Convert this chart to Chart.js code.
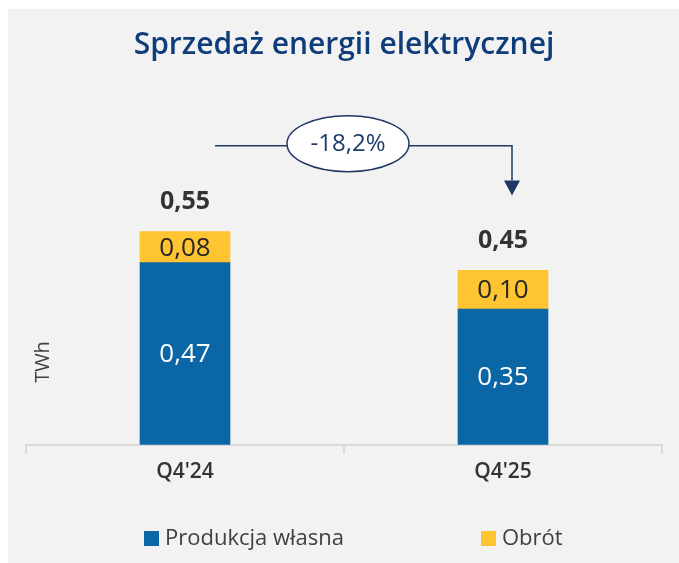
<!DOCTYPE html>
<html>
<head>
<meta charset="utf-8">
<script src="https://cdn.jsdelivr.net/npm/chart.js@4.4.1/dist/chart.umd.min.js"></script>
<style>
  html, body { margin: 0; padding: 0; background: #f2f2f2; }
  #wrap { width: 679px; height: 563px; }
</style>
</head>
<body>
<div id="wrap"><canvas id="chart" width="679" height="563"></canvas></div>
<script>
// dane
var categories = ["Q4'24", "Q4'25"];
var seriesNames = ["Produkcja własna", "Obrót"];
var produkcja = [0.47, 0.35];
var obrot = [0.08, 0.10];
var seriesColors = ["#0b66a6", "#fec431"];

var totals = produkcja.map(function (v, i) { return v + obrot[i]; });
var change = (totals[1] / totals[0] - 1) * 100;

var FONT = '"Open Sans", "Noto Sans", sans-serif';

function fmt(v, d) {
    return v.toFixed(d).replace('.', ',');
}

// tło, etykiety, strzałka, legenda
var decor = {
    id: 'decor',
    beforeDraw: function (chart) {
        var ctx = chart.ctx;
        ctx.save();
        ctx.fillStyle = '#f2f2f2';
        ctx.fillRect(0, 0, chart.width, chart.height);
        ctx.fillStyle = '#ffffff';
        ctx.fillRect(0, 0, chart.width, 9);
        ctx.fillRect(0, 0, 8, chart.height);
        ctx.restore();
    },
    afterDatasetsDraw: function (chart) {
        var ctx = chart.ctx;
        var area = chart.chartArea;
        ctx.save();
        ctx.textAlign = 'center';
        ctx.textBaseline = 'middle';

        // wartości w słupkach
        chart.data.datasets.forEach(function (ds, di) {
            var meta = chart.getDatasetMeta(di);
            meta.data.forEach(function (bar, i) {
                ctx.fillStyle = di === 0 ? '#ffffff' : '#262626';
                ctx.font = '26px ' + FONT;
                ctx.fillText(fmt(ds.data[i], 2), bar.x, (bar.y + bar.base) / 2 + 1);
            });
        });

        // sumy nad słupkami
        var topMeta = chart.getDatasetMeta(1);
        totals.forEach(function (t, i) {
            var bar = topMeta.data[i];
            ctx.font = 'bold 25px ' + FONT;
            ctx.fillStyle = '#333333';
            ctx.fillText(fmt(t, 2), bar.x, bar.y - 30);
        });

        // strzałka ze zmianą %
        var b0 = topMeta.data[0], b1 = topMeta.data[1];
        var lineY = b0.y - 86;
        var x0 = b0.x + 30;
        var x1 = b1.x + 9;
        var tipY = b1.y - 75;
        var cx = (area.left + area.right) / 2 + 4;
        var cy = lineY - 2;
        var rx = 61, ry = 28;
        ctx.strokeStyle = '#1f3864';
        ctx.fillStyle = '#1f3864';
        ctx.lineWidth = 1.5;
        ctx.beginPath();
        ctx.moveTo(x0, lineY);
        ctx.lineTo(cx - rx, lineY);
        ctx.moveTo(cx + rx, lineY);
        ctx.lineTo(x1, lineY);
        ctx.lineTo(x1, tipY - 15);
        ctx.stroke();
        ctx.beginPath();
        ctx.moveTo(x1 - 8, tipY - 15);
        ctx.lineTo(x1 + 8, tipY - 15);
        ctx.lineTo(x1, tipY);
        ctx.closePath();
        ctx.fill();
        ctx.beginPath();
        ctx.ellipse(cx, cy, rx, ry, 0, 0, Math.PI * 2);
        ctx.fillStyle = '#ffffff';
        ctx.fill();
        ctx.stroke();
        ctx.fillStyle = '#1f3d6b';
        ctx.font = '24px ' + FONT;
        ctx.fillText(fmt(change, 1) + '%', cx, cy + 1);

        // tytuł osi Y
        ctx.save();
        ctx.translate(43, 362);
        ctx.rotate(-Math.PI / 2);
        ctx.fillStyle = '#404040';
        ctx.font = '20px ' + FONT;
        ctx.fillText('TWh', 0, 0);
        ctx.restore();

        // legenda
        var legendX = [144, 481];
        var legendY = 531;
        ctx.textAlign = 'left';
        chart.data.datasets.forEach(function (ds, di) {
            ctx.fillStyle = ds.backgroundColor;
            ctx.fillRect(legendX[di], legendY, 15, 15);
            ctx.fillStyle = '#404040';
            ctx.font = '22px ' + FONT;
            ctx.fillText(ds.label, legendX[di] + 21, legendY + 8);
        });
        ctx.restore();
    }
};

var datasets = [produkcja, obrot].map(function (vals, i) {
    return {
        label: seriesNames[i],
        data: vals,
        backgroundColor: seriesColors[i],
        borderWidth: 0,
        barThickness: 90
    };
});

new Chart(document.getElementById('chart').getContext('2d'), {
    type: 'bar',
    data: { labels: categories, datasets: datasets },
    options: {
        responsive: false,
        animation: false,
        layout: { padding: { left: 26, right: 17, top: 0, bottom: 72 } },
        plugins: {
            legend: { display: false },
            tooltip: { enabled: false },
            title: {
                display: true,
                text: 'Sprzedaż energii elektrycznej',
                color: '#0f3d7a',
                font: { family: FONT, size: 30, weight: '600' },
                padding: { top: 27, bottom: 33 }
            }
        },
        scales: {
            x: {
                stacked: true,
                grid: {
                    display: true,
                    drawOnChartArea: false,
                    offset: true,
                    tickLength: 9,
                    color: '#d9d9d9',
                    lineWidth: 2
                },
                border: { display: true, color: '#d9d9d9', width: 2 },
                ticks: {
                    color: '#333333',
                    padding: 6,
                    font: { family: FONT, size: 21, weight: '600' }
                }
            },
            y: { stacked: true, display: false, min: 0, max: 0.9 }
        }
    },
    plugins: [decor]
});
</script>
</body>
</html>
